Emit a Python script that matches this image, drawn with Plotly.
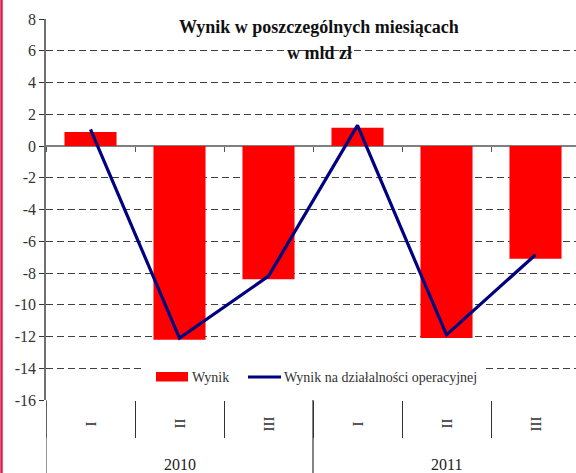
import plotly.graph_objects as go

years = ["2010", "2011"]
months = ["I", "II", "III"]
wynik = [0.88, -12.2, -8.4, 1.15, -12.1, -7.1]
wynik_oper = [1.05, -12.1, -8.2, 1.3, -11.9, -6.85]
y_ticks = [8, 6, 4, 2, 0, -2, -4, -6, -8, -10, -12, -14, -16]

FONT = "Liberation Serif, DejaVu Serif, serif"
x = list(range(len(wynik)))
boundaries = [i + 0.5 for i in range(-1, len(wynik))]
XR = [-0.5, 5.455]
YR = [-16, 8]
PH = 381.0  # plot height px
PW = 530.0  # plot width px

fig = go.Figure()
fig.add_trace(go.Bar(x=x, y=wynik, name="Wynik", marker=dict(color="#ff0000", line=dict(width=0)),
                     width=0.585, showlegend=False))
fig.add_trace(go.Scatter(x=x, y=wynik_oper, name="Wynik na działalności operacyjnej", mode="lines",
                         line=dict(color="#000080", width=3.2), xaxis="x2", showlegend=False))

shapes = []
annotations = []
for gi, yr in enumerate(years):
    for mi, m in enumerate(months):
        idx = gi * len(months) + mi
        annotations.append(dict(x=idx, y=0, xref="x", yref="paper", text=m, showarrow=False,
                                textangle=-90, yshift=-24, yanchor="middle",
                                font=dict(family=FONT, size=15, color="#333333")))
    annotations.append(dict(x=gi * len(months) + (len(months) - 1) / 2, y=0, xref="x", yref="paper",
                            text=yr, showarrow=False, yshift=-64, yanchor="middle",
                            font=dict(family=FONT, size=16, color="#222222")))
for gi in range(len(years) + 1):
    bx = gi * len(months) - 0.5
    shapes.append(dict(type="line", xref="x", yref="paper", x0=bx, x1=bx, y0=0, y1=-73 / PH,
                       line=dict(color="#707070" if gi == 0 else "#333333", width=1.5 if gi == 0 else 1.2)))
shapes.append(dict(type="line", xref="paper", yref="paper", x0=-44.5 / PW, x1=-44.5 / PW,
                   y0=-73 / PH, y1=1 + 19 / PH, line=dict(color="#dc1e50", width=2.5)))


def px(v):
    return (v - 46) / PW


def py(v):
    return (400 - v) / PH


shapes.append(dict(type="rect", xref="paper", yref="paper", x0=px(145), x1=px(483), y0=py(392), y1=py(362),
                   fillcolor="white", line=dict(width=0), layer="above"))
shapes.append(dict(type="rect", xref="paper", yref="paper", x0=px(156), x1=px(188), y0=py(381.5), y1=py(372),
                   fillcolor="#ff0000", line=dict(width=0), layer="above"))
shapes.append(dict(type="line", xref="paper", yref="paper", x0=px(248), x1=px(281), y0=py(377), y1=py(377),
                   line=dict(color="#000080", width=3.2), layer="above"))
annotations.append(dict(x=px(190), y=py(377), xref="paper", yref="paper", text=fig.data[0].name,
                        showarrow=False, xanchor="left", yanchor="middle",
                        font=dict(family=FONT, size=14, color="#333333")))
annotations.append(dict(x=px(282), y=py(377), xref="paper", yref="paper", text=fig.data[1].name,
                        showarrow=False, xanchor="left", yanchor="middle",
                        font=dict(family=FONT, size=14, color="#333333")))
annotations.append(dict(x=px(319), y=py(27), xref="paper", yref="paper",
                        text="<b>Wynik w poszczególnych miesiącach</b>", showarrow=False,
                        xanchor="center", yanchor="middle", font=dict(family=FONT, size=18, color="#111111")))
annotations.append(dict(x=px(319), y=py(53), xref="paper", yref="paper",
                        text="<b>w mld zł</b>", showarrow=False,
                        xanchor="center", yanchor="middle", font=dict(family=FONT, size=18, color="#111111")))

fig.update_layout(
    width=576, height=473,
    margin=dict(l=46, r=0, t=19, b=73),
    paper_bgcolor="white", plot_bgcolor="white",
    shapes=shapes, annotations=annotations,
    xaxis=dict(range=XR, tickvals=boundaries, ticktext=[""] * len(boundaries), ticks="outside",
               ticklen=37, tickcolor="#333333", tickwidth=1.2, showgrid=False, zeroline=False,
               showline=False, fixedrange=True),
    xaxis2=dict(range=XR, overlaying="x", anchor="free", position=(0 - YR[0]) / (YR[1] - YR[0]),
                side="bottom", tickvals=boundaries, ticktext=[""] * len(boundaries), ticks="outside",
                ticklen=5, tickcolor="#555555", tickwidth=1, showgrid=False, zeroline=False, showline=False),
    yaxis=dict(range=YR, tickvals=y_ticks, ticktext=[str(v) for v in y_ticks], ticks="outside",
               ticklen=5, tickcolor="#333333",
               showline=True, linecolor="#707070", linewidth=1.5,
               showgrid=True, gridcolor="#404040", gridwidth=1, griddash="7px,4px",
               zeroline=True, zerolinecolor="#808080", zerolinewidth=1.5,
               tickfont=dict(family=FONT, size=16, color="#333333")),
    font=dict(family=FONT),
)

fig.write_html("out.html", post_script="document.body.style.margin='0';",
               config={"displayModeBar": False})
